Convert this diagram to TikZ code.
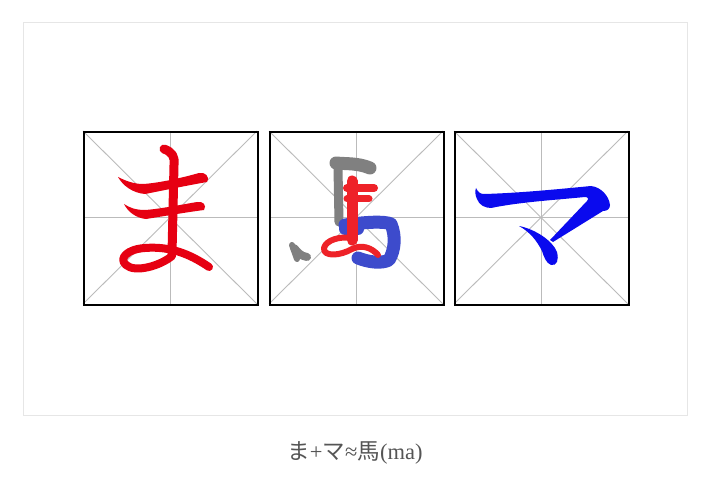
\documentclass[tikz,border=0pt]{standalone}
\usepackage{fontspec}
\setmainfont{Liberation Serif}
\newfontfamily\cjk{Noto Sans CJK JP}
\definecolor{framegray}{HTML}{E6E6E6}
\definecolor{gridgray}{HTML}{BBBBBB}
\definecolor{capgray}{HTML}{555555}
\definecolor{kred}{HTML}{E60012}
\definecolor{kblue}{HTML}{0A0AEE}
\definecolor{mred}{HTML}{EE2228}
\definecolor{mblue}{HTML}{3D4BCC}
\definecolor{mgray}{HTML}{808080}
\tikzset{
  cellbox/.style={draw=black, line width=2.3pt},
  gridline/.style={draw=gridgray, line width=0.9pt},
  brush/.style={line width=#1, line cap=round, line join=round},
}
\newcommand{\cellgrid}[3]{%
  \draw[gridline] (#1,#2) -- (#1+174,#2+173);
  \draw[gridline] (#1+174,#2) -- (#1,#2+173);
  \draw[gridline] (#1+87,#2) -- (#1+87,#2+173);
  \draw[gridline] (#1,#2+86.5) -- (#1+174,#2+86.5);
  \node[cellbox, minimum width=174pt, minimum height=173pt, inner sep=0pt, anchor=north west] (#3) at (#1,#2) {};
}
\begin{document}
\begin{tikzpicture}[x=1pt,y=-1pt]
\useasboundingbox (0,0) rectangle (710,500);
\fill[white] (0,0) rectangle (710,500);
\draw[framegray, line width=1pt] (23,23) rectangle (687,415);
\cellgrid{83}{131}{c1}
\cellgrid{269}{131}{c2}
\cellgrid{454}{131}{c3}
% left character: ma (hiragana), brush strokes
\fill[kred] (118,177) .. controls (126,181) and (134,184) .. (143,184)
  .. controls (160,183) and (185,177) .. (199,173)
  .. controls (205,172) and (210,176) .. (207,182)
  .. controls (190,185) and (165,190) .. (145,194)
  .. controls (133,193) and (123,186) .. (118,177) -- cycle;
\fill[kred] (124,204) .. controls (130,208) and (136,210) .. (145,210)
  .. controls (160,209) and (185,204) .. (197,202)
  .. controls (203,201) and (207,205) .. (204,210)
  .. controls (188,212) and (165,216) .. (146,219)
  .. controls (136,218) and (128,212) .. (124,204) -- cycle;
\draw[kred, brush=9pt] (164,149) .. controls (172,152) and (175,156) .. (174,165)
  -- (172,254);
\draw[kred, brush=8pt] (172,256) .. controls (160,266) and (135,273) .. (126,265)
  .. controls (118,258) and (128,249) .. (145,248)
  .. controls (170,246) and (190,254) .. (209,267);
% right character: ma (katakana), brush shapes
\fill[kblue] (476,188) .. controls (478,192) and (480,194) .. (484,194)
  .. controls (520,193) and (560,189) .. (591,186)
  .. controls (601,187) and (609,196) .. (610,205)
  .. controls (610,209) and (607,211) .. (603,211)
  -- (553,242) -- (550,240)
  -- (587,201)
  .. controls (589,199) and (588,197) .. (585,197)
  .. controls (555,200) and (520,202) .. (491,208)
  .. controls (485,208) and (479,205) .. (477,199)
  .. controls (475,195) and (475,191) .. (476,188) -- cycle;
\fill[kblue] (519,226) .. controls (535,229) and (553,241) .. (557,252)
  .. controls (559,260) and (557,266) .. (551,265)
  .. controls (546,263) and (544,257) .. (542,251)
  .. controls (537,241) and (530,232) .. (519,226) -- cycle;
% middle composite
\draw[mgray, brush=13pt] (336,163) .. controls (347,164) and (358,163) .. (370,168);
\draw[mgray, brush=9pt] (338,168) -- (339,222);
\draw[mgray, brush=8pt] (294,248) .. controls (298,252) and (300,256) .. (307,257);
\draw[mgray, brush=6pt] (292,245) -- (297,259);
\draw[mblue, brush=12pt] (345,229) -- (358,229);
\draw[mblue, brush=13pt] (345,225) .. controls (365,222) and (385,221) .. (391,224)
      .. controls (396,236) and (395,250) .. (389,260)
      .. controls (381,264) and (368,262) .. (358,258);
\draw[mred, brush=11pt] (352,181) -- (352,240);
\draw[mred, brush=8pt] (347,188) -- (374,188);
\draw[mred, brush=7pt] (347,199) -- (369,199);
\draw[mred, brush=6pt] (352,238) .. controls (340,236) and (326,240) .. (324,248)
      .. controls (323,257) and (340,256) .. (352,249)
      .. controls (362,244) and (372,248) .. (378,255);
% caption
\node[text=capgray, font=\fontsize{22.5}{26}\selectfont, inner sep=0pt] (cap) at (355,453)
  {{\cjk ま}+{\cjk マ}≈{\cjk 馬}(ma)};
\end{tikzpicture}
\end{document}
